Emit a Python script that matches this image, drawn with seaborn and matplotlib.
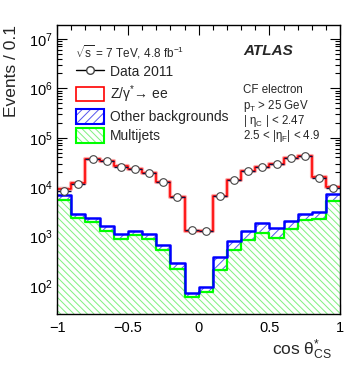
import numpy as np
import pandas as pd
import matplotlib
matplotlib.use("Agg")
import matplotlib.pyplot as plt
import seaborn as sns
from matplotlib.patches import Patch
from matplotlib.lines import Line2D
from matplotlib.ticker import FixedLocator, LogLocator, NullFormatter, MultipleLocator

# ---------------- data ----------------
x_range = (-1.0, 1.0)
bin_width = 0.1
data_2011 = [8450, 11700, 37700, 34300, 25900, 23600, 19600, 12900, 6400, 1370,
             1300, 6700, 14100, 21500, 25900, 29800, 39500, 43300, 15500, 9700]
multijets = [5550, 2400, 1990, 1300, 900, 1080, 900, 537, 221, 60,
             76, 211, 537, 857, 1190, 940, 1430, 2180, 2290, 5300]
other_bkg = [1450, 490, 410, 350, 240, 220, 240, 143, 72, 12,
             19, 177, 281, 443, 710, 560, 650, 710, 880, 2050]
z_ee = [2290, 9410, 35300, 32650, 26060, 22300, 18460, 12220, 6110, 1230,
        1205, 6310, 13280, 20200, 24000, 28300, 37420, 40410, 12630, 2850]
xtick_values = [-1, -0.5, 0, 0.5, 1]
xtick_labels = ['\u22121', '\u22120.5', '0', '0.5', '1']
ytick_values = [1e2, 1e3, 1e4, 1e5, 1e6, 1e7]
legend_labels = ['Data 2011', 'Z/$\\gamma^{*}$\u2192 ee', 'Other backgrounds', 'Multijets']

# ---------------- style ----------------
sns.set_style("ticks")
plt.rcParams['font.family'] = ['Liberation Sans', 'DejaVu Sans']
plt.rcParams['mathtext.fontset'] = 'custom'
plt.rcParams['mathtext.rm'] = 'Liberation Sans'
plt.rcParams['mathtext.it'] = 'Liberation Sans:italic'
plt.rcParams['mathtext.bf'] = 'Liberation Sans:bold'
plt.rcParams['mathtext.default'] = 'regular'
plt.rcParams['hatch.linewidth'] = 0.7

n_bins = len(data_2011)
bin_edges = np.linspace(x_range[0], x_range[1], n_bins + 1)
centers = 0.5 * (bin_edges[:-1] + bin_edges[1:])
mj = np.array(multijets, float)
bkg_total = mj + np.array(other_bkg, float)
mc_total = bkg_total + np.array(z_ee, float)
df = pd.DataFrame({'x': centers, 'mj': mj, 'bkg': bkg_total, 'tot': mc_total,
                   'data': np.array(data_2011, float)})

fig = plt.figure(figsize=(3.57, 3.74), dpi=100)
ax = fig.add_axes([0.160, 0.160, 0.793, 0.773])

GREEN_H = '#7ff07f'
GREEN = '#00ff00'
BLUE_H = '#5555ee'
BLUE = '#0000ff'
RED = '#ff0000'

hkw = dict(data=df, x='x', binwidth=bin_width, binrange=x_range, element='step', ax=ax)

# total MC (Z on top): white fill
sns.histplot(weights='tot', fill=True, color='white', alpha=1, linewidth=0, **hkw)
# blue (other+multijet) hatched
sns.histplot(weights='bkg', fill=True, color='white', alpha=1, linewidth=0, **hkw)
ax.collections[-1].set_hatch('////')
ax.collections[-1].set_edgecolor(BLUE_H)
# green multijets hatched
sns.histplot(weights='mj', fill=True, color='white', alpha=1, linewidth=0, **hkw)
ax.collections[-1].set_hatch('\\\\\\\\\\')
ax.collections[-1].set_edgecolor(GREEN_H)

# outlines
sns.histplot(weights='mj', fill=False, color=GREEN, linewidth=1.6, **hkw)
sns.histplot(weights='bkg', fill=False, color=BLUE, linewidth=1.8, **hkw)
sns.histplot(weights='tot', fill=False, color='#ffaaaa', linewidth=3.0, **hkw)
sns.histplot(weights='tot', fill=False, color=RED, linewidth=1.2, **hkw)

# data points
ax.errorbar(df['x'], df['data'], xerr=bin_width / 2, yerr=np.sqrt(df['data']), fmt='o',
            mfc='white', mec='#444444', ms=5.5, mew=0.8, ecolor='#101040',
            elinewidth=1.0, capsize=0, zorder=10)

ax.set_yscale('log')
ax.set_xlim(*x_range)
ax.set_ylim(27, 1.9e7)

for s in ax.spines.values():
    s.set_linewidth(1.0)
    s.set_color('black')

ax.set_xticks(xtick_values)
ax.set_xticklabels(xtick_labels)
ax.xaxis.set_minor_locator(MultipleLocator(0.1))
ax.yaxis.set_major_locator(FixedLocator(ytick_values))
ax.yaxis.set_minor_locator(LogLocator(base=10, subs=np.arange(2, 10), numticks=100))
ax.yaxis.set_minor_formatter(NullFormatter())
ax.tick_params(axis='both', which='both', direction='in', top=True, right=True,
               labelsize=10.5, width=0.8, colors='black')
ax.tick_params(axis='x', which='major', length=7, pad=5)
ax.tick_params(axis='x', which='minor', length=3.5)
ax.tick_params(axis='y', which='major', length=7, pad=3)
ax.tick_params(axis='y', which='minor', length=3.5)

ax.set_xlabel(r'cos $\theta^{*}_{CS}$', fontsize=12.5, loc='right')
ax.xaxis.set_label_coords(0.972, -0.08)
ax.set_ylabel('Events / 0.1', fontsize=12.5, loc='top')
ax.yaxis.set_label_coords(-0.135, 1.0)

# annotations
ax.text(0.064, 0.907, r'$\sqrt{s}$ = 7 TeV, 4.8 fb$^{-1}$', transform=ax.transAxes,
        fontsize=8.5, va='center', ha='left')
ax.text(0.657, 0.910, 'ATLAS', transform=ax.transAxes, fontsize=11,
        fontweight='bold', fontstyle='italic', va='center', ha='left')
cf_lines = ['CF electron', r'p$_{T}$ > 25 GeV', r'| $\eta_{C}$ | < 2.47',
            r'2.5 < |$\eta_{F}$| < 4.9']
cf_y = [0.765, 0.711, 0.659, 0.606]
for t, yy in zip(cf_lines, cf_y):
    ax.text(0.657, yy, t, transform=ax.transAxes, fontsize=8.3, va='baseline', ha='left')

# legend
h_data = Line2D([], [], color='black', lw=1, marker='o', mfc='white', mec='#444444', ms=5.5)
h_z = Patch(facecolor='white', edgecolor=RED, lw=1.2)
h_o = (Patch(facecolor='white', edgecolor=BLUE_H, hatch='////', lw=0),
       Patch(facecolor='none', edgecolor=BLUE, lw=1.5))
h_m = (Patch(facecolor='white', edgecolor=GREEN_H, hatch='\\\\\\\\\\', lw=0),
       Patch(facecolor='none', edgecolor=GREEN, lw=1.5))
leg = ax.legend([h_data, h_z, h_o, h_m], legend_labels, loc='upper left',
                bbox_to_anchor=(0.066, 0.867), frameon=False, fontsize=10,
                handlelength=2.0, handleheight=1.25, labelspacing=0.32,
                handletextpad=0.45, borderaxespad=0, borderpad=0)

fig.savefig('out.png', dpi=100)
